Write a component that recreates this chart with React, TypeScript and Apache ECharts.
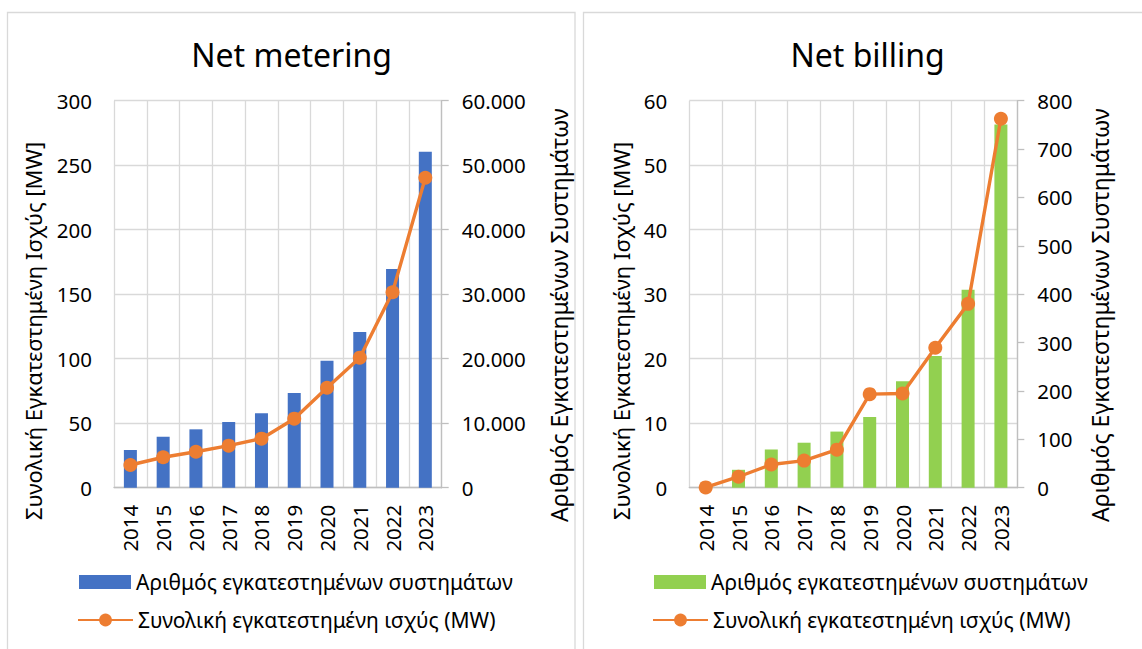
import React, { useEffect, useRef } from "react";
import * as echarts from "echarts";

const years = ["2014", "2015", "2016", "2017", "2018", "2019", "2020", "2021", "2022", "2023"];

// Net metering
const meteringSystems = [5850, 7900, 9050, 10200, 11550, 14700, 19700, 24150, 33900, 52100];
const meteringMW = [17.6, 23.6, 27.9, 32.6, 38.0, 53.5, 77.5, 100.8, 151.5, 240.3];

// Net billing
const billingSystems = [2, 37, 79, 93, 116, 146, 220, 272, 409, 751];
const billingMW = [0.05, 1.7, 3.6, 4.2, 5.9, 14.5, 14.6, 21.7, 28.5, 57.2];

const titles = ["Net metering", "Net billing"];
const leftAxisName = "Συνολική Εγκατεστημένη Ισχύς [MW]";
const rightAxisName = "Αριθμός Εγκατεστημένων Συστημάτων";
const barLegend = "Αριθμός εγκατεστημένων συστημάτων";
const lineLegend = "Συνολική εγκατεστημένη ισχύς (MW)";

const FONT = "'Noto Sans', sans-serif";
const GRID_C = "#d9d9d9";
const AXIS_C = "#bfbfbf";
const ORANGE = "#ED7D31";
const BLUE = "#4472C4";
const GREEN = "#92D050";
const TICK_FS = 20.5;
const LEG_FS = 21;

const thousands = (v: number) => String(v).replace(/\B(?=(\d{3})+(?!\d))/g, ".");

export default function App() {
  const ref = useRef<HTMLDivElement>(null);
  useEffect(() => {
    if (!ref.current) return;
    const chart = echarts.init(ref.current, null, { renderer: "svg" });

    const grids = [
      { left: 114, top: 100.7, width: 327.7, height: 387 },
      { left: 689.3, top: 100.7, width: 328, height: 387 },
    ];

    const xAxes = [0, 1].map((i) => ({
      type: "category",
      gridIndex: i,
      data: years,
      boundaryGap: true,
      axisLine: { show: true, lineStyle: { color: AXIS_C, width: 1.3 } },
      axisTick: { show: false },
      splitLine: { show: true, lineStyle: { color: GRID_C, width: 1.3 } },
      axisLabel: { rotate: 90, margin: 17, fontSize: TICK_FS, color: "#000", fontFamily: FONT },
    }));

    const labelStyle = { fontSize: TICK_FS, color: "#000", fontFamily: FONT };

    const yAxes = [
      {
        type: "value", gridIndex: 0, position: "left", min: 0, max: 300, interval: 50,
        axisLine: { show: false }, axisTick: { show: false },
        splitLine: { show: true, lineStyle: { color: GRID_C, width: 1.3 } },
        axisLabel: { ...labelStyle, margin: 22 },
      },
      {
        type: "value", gridIndex: 0, position: "right", min: 0, max: 60000, interval: 10000,
        axisLine: { show: true, lineStyle: { color: AXIS_C, width: 1.3 } },
        axisTick: { show: true, inside: false, length: 7, lineStyle: { color: AXIS_C, width: 1.3 } },
        splitLine: { show: false },
        axisLabel: { ...labelStyle, margin: 20, formatter: thousands },
      },
      {
        type: "value", gridIndex: 1, position: "left", min: 0, max: 60, interval: 10,
        axisLine: { show: false }, axisTick: { show: false },
        splitLine: { show: true, lineStyle: { color: GRID_C, width: 1.3 } },
        axisLabel: { ...labelStyle, margin: 22 },
      },
      {
        type: "value", gridIndex: 1, position: "right", min: 0, max: 800, interval: 100,
        axisLine: { show: true, lineStyle: { color: AXIS_C, width: 1.3 } },
        axisTick: { show: true, inside: false, length: 7, lineStyle: { color: AXIS_C, width: 1.3 } },
        splitLine: { show: false },
        axisLabel: { ...labelStyle, margin: 20 },
      },
    ];

    const lineSeries = (name: string, data: number[], xi: number, yi: number) => ({
      type: "line", name, data, xAxisIndex: xi, yAxisIndex: yi,
      symbol: "circle", symbolSize: 14, z: 5,
      lineStyle: { color: ORANGE, width: 3.4 },
      itemStyle: { color: ORANGE },
    });

    // anchored at the bottom end of the text; text runs upward
    const axisName = (text: string, x: number, yBottom: number, fs: number) => ({
      type: "text", x, y: yBottom, rotation: Math.PI / 2, silent: true,
      style: { text, fontSize: fs, fontFamily: FONT, fill: "#000", align: "left", verticalAlign: "middle" },
    });

    const legendText = { fontSize: LEG_FS, color: "#000", fontFamily: FONT };

    const option = {
      animation: false,
      backgroundColor: "#fff",
      textStyle: { fontFamily: FONT },
      graphic: [
        { type: "rect", shape: { x: 7.5, y: 12.5, width: 567.5, height: 660 }, style: { fill: "none", stroke: "#d9d9d9", lineWidth: 1.3 }, silent: true },
        { type: "rect", shape: { x: 583.5, y: 12.5, width: 600, height: 660 }, style: { fill: "none", stroke: "#d9d9d9", lineWidth: 1.3 }, silent: true },
        axisName(leftAxisName, 32.5, 520, 22),
        axisName(rightAxisName, 558.5, 522, 23),
        axisName(leftAxisName, 621, 520, 22),
        axisName(rightAxisName, 1100, 522, 23),
      ],
      title: [
        { text: titles[0], left: 291.6, top: 38, padding: 0, textAlign: "center", textStyle: { fontSize: 32, fontWeight: "normal", color: "#000", fontFamily: FONT } },
        { text: titles[1], left: 867.6, top: 38, padding: 0, textAlign: "center", textStyle: { fontSize: 32, fontWeight: "normal", color: "#000", fontFamily: FONT } },
      ],
      legend: [
        { data: [{ name: barLegend, icon: "rect" }], left: 79, top: 571.5, padding: 0, itemWidth: 52, itemHeight: 14, textStyle: legendText, selectedMode: false },
        { data: [lineLegend], left: 77, top: 609.5, padding: 0, itemWidth: 55, itemHeight: 16, textStyle: legendText, selectedMode: false },
        { data: [{ name: barLegend + " ", icon: "rect" }], left: 654, top: 571.5, padding: 0, itemWidth: 52, itemHeight: 14, textStyle: legendText, selectedMode: false },
        { data: [lineLegend + " "], left: 652, top: 609.5, padding: 0, itemWidth: 55, itemHeight: 16, textStyle: legendText, selectedMode: false },
      ],
      grid: grids,
      xAxis: xAxes,
      yAxis: yAxes,
      series: [
        { type: "bar", name: barLegend, data: meteringSystems, xAxisIndex: 0, yAxisIndex: 1, barWidth: 13, itemStyle: { color: BLUE } },
        lineSeries(lineLegend, meteringMW, 0, 0),
        { type: "bar", name: barLegend + " ", data: billingSystems, xAxisIndex: 1, yAxisIndex: 3, barWidth: 13, itemStyle: { color: GREEN } },
        lineSeries(lineLegend + " ", billingMW, 1, 2),
      ],
    };
    chart.setOption(option as any);
    return () => chart.dispose();
  }, []);
  return (
    <div
      ref={ref}
      style={{ position: "fixed", left: 0, top: 0, width: 1142, height: 649, background: "#fff" }}
    />
  );
}
